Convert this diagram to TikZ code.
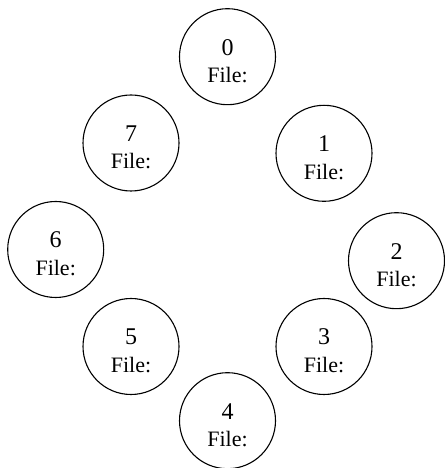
\documentclass[tikz,border=0pt]{standalone}
\usepackage{fontspec}
\setmainfont{Liberation Serif}
\usepackage{tikz}

\tikzset{
  peer/.style={draw, circle, line width=1.1pt, minimum size=96pt, inner sep=0pt,
    align=center, text height=52pt, text depth=0pt,
    font=\fontsize{22}{27.5}\selectfont},
}
\newcommand{\peerlabel}[1]{{\fontsize{24}{27.5}\selectfont #1}\\File:}

\begin{document}
\begin{tikzpicture}[x=1pt,y=1pt]
      \useasboundingbox (0,0) rectangle (444,468);
      \node[peer] (p0) at (227.5,411.3) {\peerlabel{0}};
      \node[peer] (p1) at (324,314.7) {\peerlabel{1}};
      \node[peer] (p2) at (396.5,207.3) {\peerlabel{2}};
      \node[peer] (p3) at (324,121.5) {\peerlabel{3}};
      \node[peer] (p4) at (227.5,47.3) {\peerlabel{4}};
      \node[peer] (p5) at (131,121.5) {\peerlabel{5}};
      \node[peer] (p6) at (55.7,218.5) {\peerlabel{6}};
      \node[peer] (p7) at (131,325) {\peerlabel{7}};
\end{tikzpicture}
\end{document}
